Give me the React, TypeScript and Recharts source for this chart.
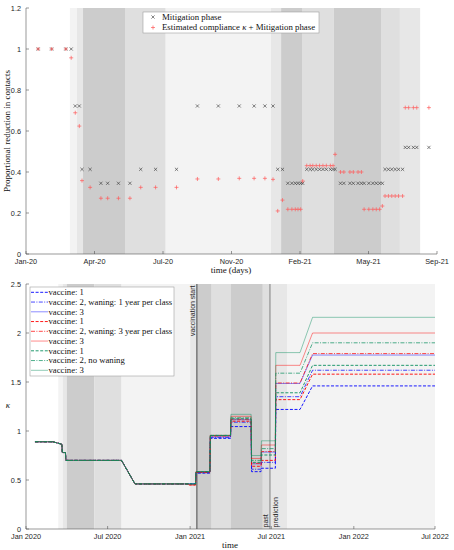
import React from 'react'
import { ComposedChart, Scatter, Line, XAxis, YAxis, ReferenceArea, ReferenceLine } from 'recharts'

// ---- top panel: mitigation phases (x = days since 1 Jan 2020) ----
const topTicks = [0, 101.5, 203, 304.5, 406, 507.5, 609]
const topTickLabels = ['Jan-20', 'Apr-20', 'Jul-20', 'Nov-20', 'Feb-21', 'May-21', 'Sep-21']
const topYTicks = [0, 0.2, 0.4, 0.6, 0.8, 1, 1.2]

const phaseDays = [
  18, 38, 59, 67, 73, 79, 83, 95, 111, 121, 137, 154, 170, 192, 223, 254, 285, 316, 338, 354,
  366, 373, 380, 388, 394, 399, 403, 407, 410, 416, 421, 425, 430, 435, 440, 445, 451, 455, 458, 466,
  471, 480, 485, 492, 497, 501, 508, 514, 519, 524, 528, 532, 537, 542, 547, 552, 558, 562, 567, 574,
  579, 597,
]
const mitigation = [
  1, 1, 1, 1, 0.722, 0.722, 0.413, 0.413, 0.345, 0.345, 0.345, 0.345, 0.413, 0.413, 0.413, 0.722, 0.722, 0.722, 0.722, 0.722,
  0.722, 0.413, 0.413, 0.345, 0.345, 0.345, 0.345, 0.345, 0.345, 0.413, 0.413, 0.413, 0.413, 0.413, 0.413, 0.413, 0.413, 0.413, 0.413, 0.345,
  0.345, 0.345, 0.345, 0.345, 0.345, 0.345, 0.345, 0.345, 0.345, 0.345, 0.345, 0.413, 0.413, 0.413, 0.413, 0.413, 0.413, 0.52, 0.52, 0.52,
  0.52, 0.52,
]
const compliance = [
  1, 1, 1, 0.957, 0.689, 0.624, 0.358, 0.325, 0.272, 0.272, 0.272, 0.272, 0.325, 0.325, 0.325, 0.366, 0.366, 0.369, 0.369, 0.369,
  0.364, 0.21, 0.263, 0.218, 0.218, 0.218, 0.218, 0.218, 0.356, 0.431, 0.431, 0.431, 0.431, 0.431, 0.431, 0.431, 0.431, 0.431, 0.486, 0.4,
  0.4, 0.4, 0.4, 0.4, 0.4, 0.218, 0.218, 0.218, 0.218, 0.218, 0.234, 0.283, 0.283, 0.283, 0.283, 0.283, 0.283, 0.714, 0.714, 0.714,
  0.714, 0.714,
]

// phase shading (level 1 = lightest, 4 = darkest)
const topBandStart = [65, 75.6, 84.5, 146.7, 207, 363, 378, 409, 456, 526, 554]
const topBandEnd = [75.6, 84.5, 146.7, 207, 363, 378, 409, 456, 526, 554, 584]
const topBandLevel = [1, 2, 4, 3, 1, 2, 4, 3, 4, 3, 2]

// ---- bottom panel: kappa scenarios ----
const bottomTicks = [0, 182, 366, 547, 731, 912]
const bottomTickLabels = ['Jan 2020', 'Jul 2020', 'Jan 2021', 'Jul 2021', 'Jan 2022', 'Jul 2022']
const bottomYTicks = [0, 0.5, 1, 1.5, 2, 2.5]

const bottomBandStart = [72, 82, 91, 152, 213, 366, 381, 414, 457, 528, 546, 582]
const bottomBandEnd = [82, 91, 152, 213, 366, 381, 414, 457, 528, 546, 582, 912]
const bottomBandLevel = [1, 2, 4, 3, 1, 2, 4, 3, 4, 3, 2, 1]

const vaccinationDay = 381
const predictionDay = 544

const kappaDays = [20, 60, 72, 80, 81, 88, 89, 213, 243, 362, 363, 378, 379, 410, 411, 456, 457, 502, 503, 524, 525, 556, 557, 611, 639, 912]
const wane1V1 = [0.89, 0.89, 0.875, 0.865, 0.78, 0.78, 0.7, 0.7, 0.46, 0.46, 0.46, 0.46, 0.57, 0.57, 0.925, 0.925, 1.045, 1.045, 0.585, 0.585, 0.62, 0.62, 1.22, 1.22, 1.46, 1.46]
const wane1V2 = [0.89, 0.89, 0.875, 0.865, 0.78, 0.78, 0.7, 0.7, 0.46, 0.46, 0.46, 0.46, 0.575, 0.575, 0.935, 0.935, 1.09, 1.09, 0.61, 0.61, 0.68, 0.68, 1.35, 1.35, 1.62, 1.62]
const wane1V3 = [0.89, 0.89, 0.875, 0.865, 0.78, 0.78, 0.7, 0.7, 0.46, 0.46, 0.46, 0.46, 0.58, 0.58, 0.94, 0.94, 1.115, 1.115, 0.665, 0.665, 0.785, 0.785, 1.485, 1.485, 1.775, 1.775]
const wane3V1 = [0.89, 0.89, 0.875, 0.865, 0.78, 0.78, 0.7, 0.7, 0.46, 0.46, 0.45, 0.45, 0.58, 0.58, 0.955, 0.955, 1.1, 1.1, 0.64, 0.64, 0.7, 0.7, 1.32, 1.32, 1.58, 1.58]
const wane3V2 = [0.89, 0.89, 0.875, 0.865, 0.78, 0.78, 0.7, 0.7, 0.46, 0.46, 0.45, 0.45, 0.58, 0.58, 0.95, 0.95, 1.12, 1.12, 0.67, 0.67, 0.79, 0.79, 1.49, 1.49, 1.79, 1.79]
const wane3V3 = [0.89, 0.89, 0.875, 0.865, 0.78, 0.78, 0.7, 0.7, 0.46, 0.46, 0.45, 0.45, 0.585, 0.585, 0.95, 0.95, 1.15, 1.15, 0.72, 0.72, 0.857, 0.857, 1.67, 1.67, 2.0, 2.0]
const noWaneV1 = [0.89, 0.89, 0.875, 0.865, 0.78, 0.78, 0.7, 0.7, 0.46, 0.46, 0.46, 0.46, 0.585, 0.585, 0.955, 0.955, 1.125, 1.125, 0.68, 0.68, 0.755, 0.755, 1.39, 1.39, 1.67, 1.67]
const noWaneV2 = [0.89, 0.89, 0.875, 0.865, 0.78, 0.78, 0.7, 0.7, 0.46, 0.46, 0.46, 0.46, 0.585, 0.585, 0.955, 0.955, 1.135, 1.135, 0.7, 0.7, 0.82, 0.82, 1.59, 1.59, 1.9, 1.9]
const noWaneV3 = [0.89, 0.89, 0.875, 0.865, 0.78, 0.78, 0.7, 0.7, 0.46, 0.46, 0.46, 0.46, 0.585, 0.585, 0.955, 0.955, 1.17, 1.17, 0.75, 0.75, 0.9, 0.9, 1.8, 1.8, 2.16, 2.16]

const legendLabels = [
  'vaccine: 1', 'vaccine: 2, waning: 1 year per class', 'vaccine: 3',
  'vaccine: 1', 'vaccine: 2, waning: 3 year per class', 'vaccine: 3',
  'vaccine: 1', 'vaccine: 2, no waning', 'vaccine: 3',
]

const FONT_SANS = '"Liberation Sans", Arial, Helvetica, sans-serif'
const FONT_SERIF = '"Liberation Serif", "DejaVu Serif", serif'
const AXIS = '#555'
const TICK_TEXT = '#262626'
const SHADES = ['#fff', '#f3f3f3', '#e7e7e7', '#dfdfdf', '#cccccc']

const BLUE = '#0000ff'
const RED = '#ff0000'
const GREEN = '#0a8f5f'
const DASH = ['3 1.6', '4 1.4 1 1.4', undefined]
const OPAC = [1, 0.8, 0.5]

const series = [
  { key: 'b1', values: wane1V1, color: BLUE, v: 0 },
  { key: 'b2', values: wane1V2, color: BLUE, v: 1 },
  { key: 'b3', values: wane1V3, color: BLUE, v: 2 },
  { key: 'r1', values: wane3V1, color: RED, v: 0 },
  { key: 'r2', values: wane3V2, color: RED, v: 1 },
  { key: 'r3', values: wane3V3, color: RED, v: 2 },
  { key: 'g1', values: noWaneV1, color: GREEN, v: 0 },
  { key: 'g2', values: noWaneV2, color: GREEN, v: 1 },
  { key: 'g3', values: noWaneV3, color: GREEN, v: 2 },
]

const mitigationPts = phaseDays.map((d, i) => ({ d, v: mitigation[i] }))
const compliancePts = phaseDays.map((d, i) => ({ d, v: compliance[i] }))
const kappaRows = kappaDays.map((d, i) => {
  const row: Record<string, number> = { d }
  series.forEach((s) => (row[s.key] = s.values[i]))
  return row
})

// MATLAB-style ticks: marks point inward
function XTick(props: any) {
  const { x, y, payload, ticks, labels } = props
  const label = labels[ticks.indexOf(payload.value)]
  return (
    <g>
      <line x1={x} x2={x} y1={y - 5} y2={y - 8} stroke={AXIS} strokeWidth={0.6} />
      <text x={x} y={y} dy="0.72em" textAnchor="middle" fill={TICK_TEXT} fontSize={7.3} fontFamily={FONT_SANS}>
        {label}
      </text>
    </g>
  )
}

function YTick(props: any) {
  const { x, y, payload } = props
  return (
    <g>
      <line x1={x + 5} x2={x + 8} y1={y} y2={y} stroke={AXIS} strokeWidth={0.6} />
      <text x={x} y={y} dy="0.35em" textAnchor="end" fill={TICK_TEXT} fontSize={7.3} fontFamily={FONT_SANS}>
        {payload.value}
      </text>
    </g>
  )
}

const Cross = (p: any) => (
  <path
    d={`M${p.cx - 1.6},${p.cy - 1.6}L${p.cx + 1.6},${p.cy + 1.6}M${p.cx - 1.6},${p.cy + 1.6}L${p.cx + 1.6},${p.cy - 1.6}`}
    stroke="#333"
    strokeWidth={0.6}
    fill="none"
  />
)

const Plus = (p: any) => (
  <path
    d={`M${p.cx - 2},${p.cy}L${p.cx + 2},${p.cy}M${p.cx},${p.cy - 2}L${p.cx},${p.cy + 2}`}
    stroke="#ff5a5a"
    strokeWidth={0.7}
    fill="none"
  />
)

const vLabel = (text: string, dx: number, atTop: boolean) => (props: any) => {
  const vb = props.viewBox
  if (!vb) return null
  const x = vb.x + dx
  const y = atTop ? vb.y + 1.5 : vb.y + vb.height - 1.5
  return (
    <text
      x={x}
      y={y}
      transform={`rotate(-90 ${x} ${y})`}
      textAnchor={atTop ? 'end' : 'start'}
      fontSize={7}
      fontFamily={FONT_SANS}
      fill={TICK_TEXT}
    >
      {text}
    </text>
  )
}

const axisLine = { stroke: AXIS, strokeWidth: 0.6 }

function TopPanel() {
  return (
    <ComposedChart width={454} height={275} margin={{ top: 8, right: 17, bottom: 0, left: 0 }}>
      {topBandStart.map((s, i) => (
        <ReferenceArea key={i} x1={s} x2={topBandEnd[i]} fill={SHADES[topBandLevel[i]]} fillOpacity={1} stroke="none" />
      ))}
      <XAxis
        type="number"
        dataKey="d"
        domain={[0, 609]}
        ticks={topTicks}
        interval={0}
        height={21}
        tickSize={0}
        tickMargin={5}
        tickLine={false}
        axisLine={axisLine}
        tick={(p: any) => <XTick {...p} ticks={topTicks} labels={topTickLabels} />}
      />
      <YAxis
        type="number"
        dataKey="v"
        domain={[0, 1.2]}
        ticks={topYTicks}
        interval={0}
        width={26}
        tickSize={0}
        tickMargin={5}
        tickLine={false}
        axisLine={axisLine}
        tick={(p: any) => <YTick {...p} />}
      />
      <Scatter data={mitigationPts} shape={Cross} isAnimationActive={false} />
      <Scatter data={compliancePts} shape={Plus} isAnimationActive={false} />
    </ComposedChart>
  )
}

function BottomPanel() {
  return (
    <ComposedChart width={454} height={275} data={kappaRows} margin={{ top: 9, right: 19, bottom: 0, left: 0 }}>
      {bottomBandStart.map((s, i) => (
        <ReferenceArea key={i} x1={s} x2={bottomBandEnd[i]} fill={SHADES[bottomBandLevel[i]]} fillOpacity={1} stroke="none" />
      ))}
      <XAxis
        type="number"
        dataKey="d"
        domain={[0, 912]}
        ticks={bottomTicks}
        interval={0}
        height={21}
        tickSize={0}
        tickMargin={5}
        tickLine={false}
        axisLine={axisLine}
        tick={(p: any) => <XTick {...p} ticks={bottomTicks} labels={bottomTickLabels} />}
      />
      <YAxis
        type="number"
        domain={[0, 2.5]}
        ticks={bottomYTicks}
        interval={0}
        width={26}
        tickSize={0}
        tickMargin={5}
        tickLine={false}
        axisLine={axisLine}
        tick={(p: any) => <YTick {...p} />}
      />
      <ReferenceLine
        x={vaccinationDay}
        stroke="#555"
        strokeWidth={1.1}
        label={{ content: vLabel('vaccination start', -1.8, true) }}
      />
      <ReferenceLine x={predictionDay} stroke="#777" strokeWidth={0.9} label={{ content: vLabel('past', -2.2, false) }} />
      <ReferenceLine x={predictionDay} stroke="none" label={{ content: vLabel('prediction', 8, false) }} />
      {series.map((s) => (
        <Line
          key={s.key}
          type="linear"
          dataKey={s.key}
          stroke={s.color}
          strokeOpacity={OPAC[s.v]}
          strokeWidth={0.9}
          strokeDasharray={DASH[s.v]}
          dot={false}
          activeDot={false}
          isAnimationActive={false}
        />
      ))}
    </ComposedChart>
  )
}

function Overlay() {
  return (
    <svg width={454} height={550} style={{ position: 'absolute', left: 0, top: 0, pointerEvents: 'none' }}>
      {/* top legend */}
      <rect x={143} y={12} width={176} height={21} fill="#fff" stroke="#a0a0a0" strokeWidth={0.6} />
      <Cross cx={153} cy={17} />
      <text x={162} y={19.8} fontSize={8.8} fontFamily={FONT_SERIF} fill="#111">Mitigation phase</text>
      <Plus cx={153} cy={27.5} />
      <text x={162} y={30.3} fontSize={8.8} fontFamily={FONT_SERIF} fill="#111">
        Estimated compliance <tspan fontStyle="italic">κ</tspan> + Mitigation phase
      </text>

      {/* top axis titles */}
      <text x={231} y={273} textAnchor="middle" fontSize={9} fontFamily={FONT_SERIF} fill="#111">time (days)</text>
      <text x={10} y={131} transform="rotate(-90 10 131)" textAnchor="middle" fontSize={9} fontFamily={FONT_SERIF} fill="#111">
        Proportional reduction in contacts
      </text>

      {/* bottom legend */}
      <rect x={30} y={287} width={144} height={89} fill="#fff" stroke="#a0a0a0" strokeWidth={0.6} />
      {series.map((s, i) => {
        const y = 292.3 + i * 9.75
        return (
          <g key={s.key}>
            <line x1={31} x2={48} y1={y} y2={y} stroke={s.color} strokeOpacity={OPAC[s.v]} strokeWidth={0.9} strokeDasharray={DASH[s.v]} />
            <text x={48.5} y={y + 2.8} fontSize={8.7} fontFamily={FONT_SERIF} fill="#111">{legendLabels[i]}</text>
          </g>
        )
      })}

      {/* bottom axis titles */}
      <text x={230} y={548} textAnchor="middle" fontSize={9} fontFamily={FONT_SERIF} fill="#111">time</text>
      <text x={8} y={408} textAnchor="middle" fontSize={9} fontStyle="italic" fontFamily={FONT_SERIF} fill="#111">κ</text>
    </svg>
  )
}

export default function App() {
  return (
    <div style={{ position: 'absolute', left: 0, top: 0, width: 454, height: 550, background: '#fff' }}>
      <div style={{ position: 'absolute', left: 0, top: 0 }}>
        <TopPanel />
      </div>
      <div style={{ position: 'absolute', left: 0, top: 275 }}>
        <BottomPanel />
      </div>
      <Overlay />
    </div>
  )
}
